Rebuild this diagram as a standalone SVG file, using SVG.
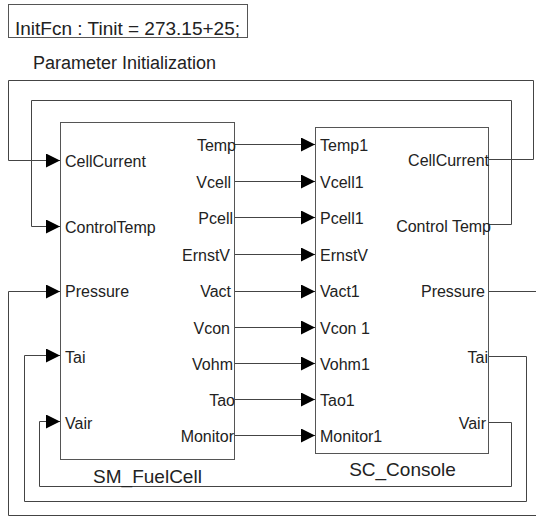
<svg xmlns="http://www.w3.org/2000/svg" width="536" height="517" viewBox="0 0 536 517">
<style>
  .blk{fill:#fff;stroke:#555;stroke-width:1}
  .w{fill:none;stroke:#444;stroke-width:1}
  text{font-family:"Liberation Sans",Arial,sans-serif;fill:#222}
  .p{font-size:16px}
  .r{text-anchor:end}
  .t{font-size:19px;text-anchor:middle}
</style>
<defs>
  <marker id="ar" markerUnits="userSpaceOnUse" markerWidth="15" markerHeight="15" refX="14" refY="7" orient="auto">
    <path d="M0,0 L14,7 L0,14 Z" fill="#000"/>
  </marker>
</defs>

<g id="initfcn">
  <rect class="blk" x="8.5" y="4.5" width="239" height="33"/>
  <text x="15" y="35" style="font-size:19px">InitFcn : Tinit = 273.15+25;</text>
  <text x="33" y="69" style="font-size:18px">Parameter Initialization</text>
</g>

<g id="connectors">
  <path class="w" d="M489,159.5 H533.5 V80.5 H8.5 V160.5 H60" marker-end="url(#ar)"/>
  <path class="w" d="M489,224.5 H511.5 V100.5 H31.5 V226.5 H60" marker-end="url(#ar)"/>
  <path class="w" d="M489,291.5 H545 V515.5 H8.5 V291.5 H60" marker-end="url(#ar)"/>
  <path class="w" d="M489,356.5 H526.5 V501.5 H24.5 V355.5 H60" marker-end="url(#ar)"/>
  <path class="w" d="M489,422.5 H511.5 V486.5 H39.5 V421.5 H60" marker-end="url(#ar)"/>
  <path class="w" d="M235,144.5 H315" marker-end="url(#ar)"/>
  <path class="w" d="M235,181.5 H315" marker-end="url(#ar)"/>
  <path class="w" d="M235,217.5 H315" marker-end="url(#ar)"/>
  <path class="w" d="M235,254.5 H315" marker-end="url(#ar)"/>
  <path class="w" d="M235,291.5 H315" marker-end="url(#ar)"/>
  <path class="w" d="M235,327.5 H315" marker-end="url(#ar)"/>
  <path class="w" d="M235,363.5 H315" marker-end="url(#ar)"/>
  <path class="w" d="M235,399.5 H315" marker-end="url(#ar)"/>
  <path class="w" d="M235,435.5 H315" marker-end="url(#ar)"/>
</g>

<g id="sm_fuelcell">
  <rect class="blk" x="60.5" y="122.5" width="174" height="337"/>
  <text class="p" x="65" y="167">CellCurrent</text>
  <text class="p" x="65" y="233">ControlTemp</text>
  <text class="p" x="65" y="297">Pressure</text>
  <text class="p" x="65" y="363">Tai</text>
  <text class="p" x="65" y="429">Vair</text>
  <text class="p r" x="236" y="151">Temp</text>
  <text class="p r" x="231" y="188">Vcell</text>
  <text class="p r" x="233" y="224">Pcell</text>
  <text class="p r" x="230" y="261">ErnstV</text>
  <text class="p r" x="231" y="297">Vact</text>
  <text class="p r" x="230" y="334">Vcon</text>
  <text class="p r" x="233" y="370">Vohm</text>
  <text class="p r" x="235" y="406">Tao</text>
  <text class="p r" x="234" y="442">Monitor</text>
  <text class="t" x="147.5" y="483">SM_FuelCell</text>
</g>

<g id="sc_console">
  <rect class="blk" x="315.5" y="127.5" width="173" height="326"/>
  <text class="p" x="320" y="151">Temp1</text>
  <text class="p" x="320" y="188">Vcell1</text>
  <text class="p" x="320" y="224">Pcell1</text>
  <text class="p" x="320" y="261">ErnstV</text>
  <text class="p" x="320" y="297">Vact1</text>
  <text class="p" x="320" y="334">Vcon 1</text>
  <text class="p" x="320" y="370">Vohm1</text>
  <text class="p" x="320" y="406">Tao1</text>
  <text class="p" x="320" y="442">Monitor1</text>
  <text class="p r" x="489" y="166">CellCurrent</text>
  <text class="p r" x="491" y="232">Control Temp</text>
  <text class="p r" x="485" y="297">Pressure</text>
  <text class="p r" x="488" y="363">Tai</text>
  <text class="p r" x="486" y="429">Vair</text>
  <text class="t" x="402.5" y="476">SC_Console</text>
</g>
</svg>
